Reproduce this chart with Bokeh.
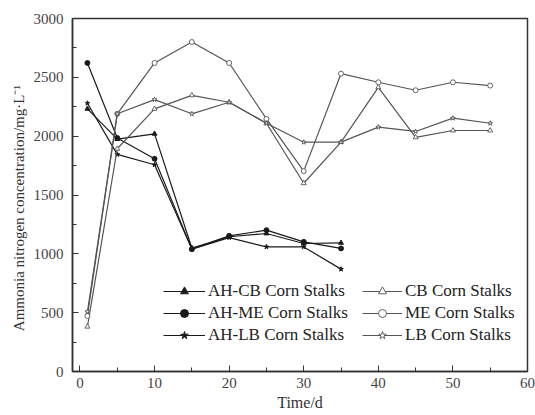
from bokeh.plotting import figure
from bokeh.models import FixedTicker, Legend, LegendItem
from bokeh.embed import file_html
from bokeh.resources import INLINE

# ---- data ----
days_ah = [1, 5, 10, 15, 20, 25, 30, 35]
ah_cb = [2232, 1975, 2020, 1050, 1145, 1173, 1088, 1093]
ah_me = [2622, 1985, 1808, 1040, 1153, 1201, 1102, 1046]
ah_lb = [2280, 1845, 1757, 1040, 1138, 1059, 1059, 870]

days = [1, 5, 10, 15, 20, 25, 30, 35, 40, 45, 50, 55]
cb = [381, 1893, 2232, 2347, 2288, 2110, 1600, 1950, 2415, 1990, 2048, 2048]
me = [472, 2190, 2622, 2800, 2622, 2147, 1703, 2531, 2458, 2390, 2458, 2430]
lb = [508, 2190, 2311, 2190, 2288, 2110, 1949, 1949, 2077, 2040, 2153, 2110]

x_ticks = [0, 10, 20, 30, 40, 50, 60]
x_minor = [5, 15, 25, 35, 45, 55]
y_ticks = [0, 500, 1000, 1500, 2000, 2500, 3000]
y_minor = [250, 750, 1250, 1750, 2250, 2750]

FONT = "Liberation Serif"
DARK = "#1a1a1a"
GRAY = "#555555"

p = figure(width=535, height=415, x_range=(-1, 60), y_range=(0, 3000),
           output_backend="svg", toolbar_location=None,
           min_border_left=72, min_border_right=8, min_border_top=18, min_border_bottom=44)
p.grid.visible = False
p.outline_line_color = "#333333"
p.outline_line_width = 1.5
p.background_fill_color = "white"
p.border_fill_color = "white"

for ax in (p.xaxis[0], p.yaxis[0]):
    ax.axis_line_color = "#333333"
    ax.axis_line_width = 1.5
    ax.major_tick_in = 6
    ax.major_tick_out = 0
    ax.minor_tick_in = 4
    ax.minor_tick_out = 0
    ax.major_tick_line_color = "#333333"
    ax.minor_tick_line_color = "#333333"
    ax.major_label_text_font = FONT
    ax.major_label_text_font_size = "15px"
    ax.major_label_text_color = "#444444"
    ax.axis_label_text_font = FONT
    ax.axis_label_text_font_size = "16px"
    ax.axis_label_text_font_style = "normal"
    ax.axis_label_text_color = "#333333"

p.xaxis.ticker = FixedTicker(ticks=x_ticks, minor_ticks=x_minor)
p.yaxis.ticker = FixedTicker(ticks=y_ticks, minor_ticks=y_minor)
p.xaxis.major_label_standoff = 6
p.yaxis.major_label_standoff = 9
p.xaxis.axis_label = "Time/d"
p.yaxis.axis_label = "Ammonia nitrogen concentration/mg·L⁻¹" + "\u00a0" * 7
p.yaxis.axis_label_text_font_size = "15px"
p.xaxis.axis_label_standoff = 3
p.yaxis.axis_label_standoff = 4

def series(x, y, marker, color, fill, size):
    ln = p.line(x, y, line_color=color, line_width=1.2)
    mk = p.scatter(x, y, marker=marker, size=size, line_color=color,
                   fill_color=fill, line_width=0.9)
    return [ln, mk]

r_ahcb = series(days_ah, ah_cb, "triangle", DARK, DARK, 5)
r_ahme = series(days_ah, ah_me, "circle", DARK, DARK, 5)
r_ahlb = series(days_ah, ah_lb, "star", DARK, DARK, 5)
r_cb = series(days, cb, "triangle", GRAY, "white", 5)
r_me = series(days, me, "circle", GRAY, "white", 5)
r_lb = series(days, lb, "star", GRAY, "white", 5)

def make_legend(items, loc, gw):
    lg = Legend(items=items, location=loc, orientation="vertical",
                border_line_color=None, background_fill_alpha=0,
                padding=0, margin=0, spacing=2, label_standoff=3,
                glyph_width=gw, glyph_height=20, label_height=20,
                label_text_font=FONT, label_text_font_size="17px",
                label_text_color="#222222")
    p.add_layout(lg, "center")

make_legend([LegendItem(label="AH-CB Corn Stalks", renderers=r_ahcb),
             LegendItem(label="AH-ME Corn Stalks", renderers=r_ahme),
             LegendItem(label="AH-LB Corn Stalks", renderers=r_ahlb)], (91, 26), 42)
make_legend([LegendItem(label="CB Corn Stalks", renderers=r_cb),
             LegendItem(label="ME Corn Stalks", renderers=r_me),
             LegendItem(label="LB Corn Stalks", renderers=r_lb)], (290, 26), 40)

open("out.html", "w").write(file_html(p, INLINE))
